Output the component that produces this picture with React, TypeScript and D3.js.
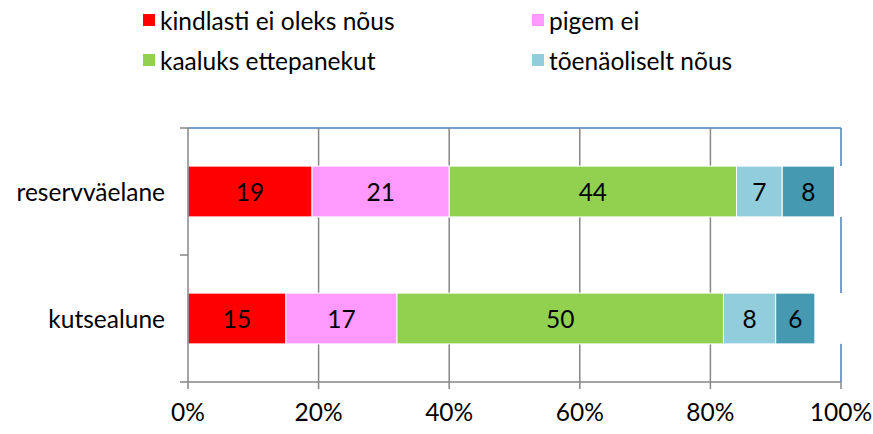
import React from "react";
import * as d3 from "d3";

const categories = ["reservväelane", "kutsealune"];
const seriesNames = ["kindlasti ei oleks nõus", "pigem ei", "kaaluks ettepanekut", "tõenäoliselt nõus", "kindlasti nõus"];
const seriesColors = ["#FF0000", "#FF99FF", "#92D050", "#92CDDC", "#4599B1"];
const reservValues = [19, 21, 44, 7, 8];
const kutseValues = [15, 17, 50, 8, 6];
const xTicks = [0, 20, 40, 60, 80, 100];
const legendShown = [0, 1, 2, 3];

const dataRows = [reservValues, kutseValues];

export default function App() {
  const W = 873, H = 434;
  const left = 188, right = 841, top = 128, bottom = 382;
  const x = d3.scaleLinear().domain([0, 100]).range([left, right]);
  const y = d3.scaleBand<string>().domain(categories).range([top, bottom]).padding(0);
  const barH = y.bandwidth() * 0.4;
  const font = "Lato, 'Open Sans', sans-serif";
  const fs = 24.5;
  const stack = d3.stack<number[]>().keys(seriesNames.map((_, i) => String(i))).value((d, k) => d[+k]);
  const stacked = stack(dataRows as any);
  const axisColor = "#868686";
  const borderColor = "#4A7EBB";

  const legendPos = [
    { x: 143, y: 20 },
    { x: 532, y: 20 },
    { x: 143, y: 60 },
    { x: 532, y: 60 },
  ];

  return (
    <svg width={W} height={H} style={{ position: "absolute", left: 0, top: 0 }} fontFamily={font}>
      <rect width={W} height={H} fill="#fff" />
      {legendShown.map((si, i) => (
        <g key={si}>
          <rect x={legendPos[i].x} y={legendPos[i].y - 6} width={12} height={12} fill={seriesColors[si]} />
          <text x={legendPos[i].x + 17} y={legendPos[i].y} dominantBaseline="central" fontSize={fs} fill="#000">
            {seriesNames[si]}
          </text>
        </g>
      ))}
      <line x1={left} x2={right} y1={top} y2={top} stroke={borderColor} strokeWidth={1.5} />
      <line x1={right} x2={right} y1={top} y2={bottom} stroke={borderColor} strokeWidth={1.5} />
      {xTicks.slice(1, -1).map((t) => (
        <line key={t} x1={x(t)} x2={x(t)} y1={top} y2={bottom} stroke={axisColor} strokeWidth={1.5} />
      ))}
      {stacked.map((s, si) =>
        s.map((d, ci) => {
          const cat = categories[ci];
          const yc = (y(cat) as number) + y.bandwidth() / 2;
          return (
            <rect key={si + "-" + ci} x={x(d[0])} y={yc - barH / 2} width={x(d[1]) - x(d[0])} height={barH}
              fill={seriesColors[si]} stroke="#fff" strokeWidth={1} />
          );
        })
      )}
      {dataRows.map((row, ci) => {
        const sum = d3.sum(row);
        const yc = (y(categories[ci]) as number) + y.bandwidth() / 2;
        return <rect key={"r" + ci} x={x(sum) + 0.5} y={yc - barH / 2} width={x(100) - x(sum) + 1} height={barH} fill="#fff" />;
      })}
      {stacked.map((s, si) =>
        s.map((d, ci) => {
          const cat = categories[ci];
          const yc = (y(cat) as number) + y.bandwidth() / 2;
          return (
            <text key={"t" + si + "-" + ci} x={(x(d[0]) + x(d[1])) / 2} y={yc} textAnchor="middle" dominantBaseline="central"
              fontSize={fs} fill="#000">
              {dataRows[ci][si]}
            </text>
          );
        })
      )}
      <line x1={left} x2={left} y1={top} y2={bottom} stroke={axisColor} strokeWidth={1.5} />
      <line x1={left} x2={right} y1={bottom} y2={bottom} stroke={axisColor} strokeWidth={1.5} />
      {[top, top + y.step(), bottom].map((yy, i) => (
        <line key={"yt" + i} x1={left - 8} x2={left} y1={yy} y2={yy} stroke={axisColor} strokeWidth={1.5} />
      ))}
      {xTicks.map((t) => (
        <g key={"xt" + t}>
          <line x1={x(t)} x2={x(t)} y1={bottom} y2={bottom + 7} stroke={axisColor} strokeWidth={1.5} />
          <text x={x(t)} y={411} textAnchor="middle" dominantBaseline="central" fontSize={fs} fill="#000">
            {t + "%"}
          </text>
        </g>
      ))}
      {categories.map((c) => (
        <text key={c} x={165} y={(y(c) as number) + y.bandwidth() / 2} textAnchor="end" dominantBaseline="central" fontSize={fs} fill="#000">
          {c}
        </text>
      ))}
    </svg>
  );
}
